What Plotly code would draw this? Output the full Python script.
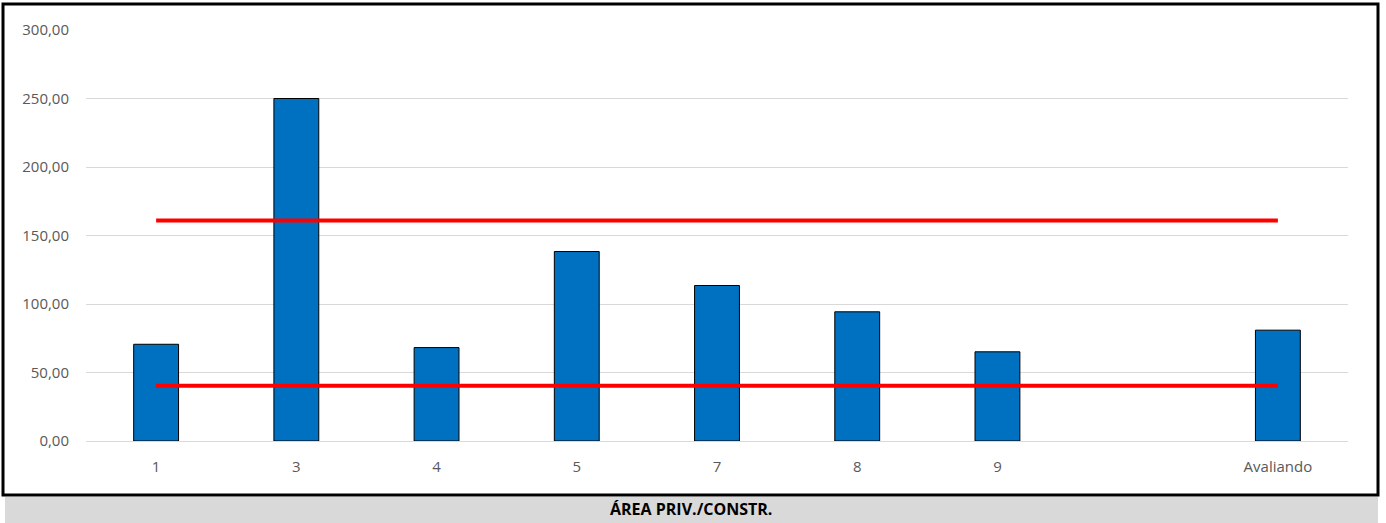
import plotly.graph_objects as go

categories = ["1", "3", "4", "5", "7", "8", "9", " ", "Avaliando"]
values = [70.6, 250.0, 68.2, 138.3, 113.5, 94.3, 65.1, None, 80.9]
upper_limit = 160.9
lower_limit = 40.4
y_ticks = [0, 50, 100, 150, 200, 250, 300]
title_text = "ÁREA PRIV./CONSTR."

W, H = 1386, 523
L, R, T, B = 86, 38, 30, 82
pw, ph = W - L - R, H - T - B

def px_x(p):
    return (p - L) / pw

def px_y(p):
    return (H - B - p) / ph

fig = go.Figure()
fig.add_trace(go.Bar(
    x=categories, y=values,
    marker=dict(color="#0070C0", line=dict(color="#000000", width=1)),
    hoverinfo="x+y",
))
for lim in (upper_limit, lower_limit):
    fig.add_trace(go.Scatter(
        x=[categories[0], categories[-1]], y=[lim, lim],
        mode="lines", line=dict(color="#FF0000", width=4),
        hoverinfo="y",
    ))

fig.update_layout(
    width=W, height=H,
    margin=dict(l=L, r=R, t=T, b=B),
    paper_bgcolor="white", plot_bgcolor="white",
    showlegend=False, bargap=0.68,
    separators=",.",
    font=dict(family="Open Sans, Calibri, sans-serif", size=15, color="#595959"),
    xaxis=dict(
        type="category", categoryorder="array", categoryarray=categories,
        showgrid=False, showline=False, zeroline=False,
        ticks="outside", ticklen=12, tickcolor="rgba(0,0,0,0)",
        tickfont=dict(size=15, color="#595959"),
    ),
    yaxis=dict(
        range=[0, 300], tickvals=y_ticks, tickformat=".2f",
        showgrid=True, gridcolor="#d9d9d9", gridwidth=1,
        zeroline=True, zerolinecolor="#d9d9d9", zerolinewidth=1,
        showline=False,
        ticks="outside", ticklen=13, tickcolor="rgba(0,0,0,0)",
        tickfont=dict(size=15, color="#595959"),
    ),
    shapes=[
        dict(type="rect", xref="paper", yref="paper",
             x0=px_x(5), x1=px_x(1378), y0=px_y(497), y1=px_y(523),
             fillcolor="#d9d9d9", line=dict(width=0), layer="below"),
        dict(type="rect", xref="paper", yref="paper",
             x0=px_x(3), x1=px_x(1378), y0=px_y(495), y1=px_y(4),
             fillcolor="rgba(0,0,0,0)", line=dict(color="#000000", width=3)),
    ],
    annotations=[
        dict(text="<b>" + title_text + "</b>", xref="paper", yref="paper",
             x=px_x(691), y=px_y(509), xanchor="center", yanchor="middle",
             showarrow=False,
             font=dict(family="Open Sans, Calibri, sans-serif", size=16, color="#000000")),
    ],
)

fig.write_html("out.html", config={"displayModeBar": False},
               post_script="document.body.style.margin='0';document.body.style.overflow='hidden';")
